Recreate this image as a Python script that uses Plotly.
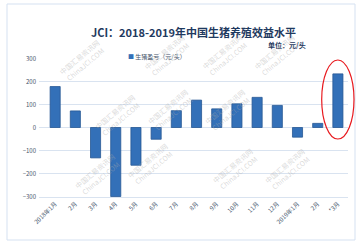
import plotly.graph_objects as go

categories = ["2018年1月", "2月", "3月", "4月", "5月", "6月", "7月", "8月", "9月",
              "10月", "11月", "12月", "2019年1月", "2月", "*3月"]
profit = [178, 72, -132, -300, -164, -51, 73, 119, 81, 103, 131, 96, -42, 18, 233]
y_ticks = [-300, -200, -100, 0, 100, 200, 300]

title_text = "JCI：2018-2019年中国生猪养殖效益水平"
unit_text = "单位：元/头"
series_name = "生猪盈亏（元/头）"

FONT = "Noto Sans CJK SC, Noto Sans, sans-serif"
xpos = list(range(len(categories)))

W, H = 363, 247
L, R, T, B = 39, 15, 58, 50
pw, ph = W - L - R, H - T - B


def px(xp):
    return (xp - L) / pw


def py(yp):
    return (H - B - yp) / ph


fig = go.Figure()
fig.add_trace(go.Bar(
    x=xpos, y=profit, name=series_name,
    marker=dict(color="#3370B8", line=dict(color="#275894", width=0.8)),
    width=0.5,
))

layout_ann = []
layout_ann.append(dict(text="<b>" + title_text + "</b>", x=px(193), y=py(22),
                       xref="paper", yref="paper", showarrow=False,
                       font=dict(size=11, color="#1F3A60", family=FONT)))
layout_ann.append(dict(text="<b>" + unit_text + "</b>", x=px(308), y=py(38),
                       xref="paper", yref="paper", showarrow=False,
                       font=dict(size=7, color="#1F3A60", family=FONT)))
layout_ann.append(dict(text="<span style='color:#3370B8'>■</span> " + series_name,
                       x=px(157), y=py(50), xref="paper", yref="paper", showarrow=False,
                       font=dict(size=6, color="#44546A", family=FONT)))

# watermarks
wm_pos = [(55, 35), (140, 30), (225, 30), (305, 30),
          (90, 115), (170, 110), (255, 110),
          (70, 200), (150, 190), (235, 195), (315, 195)]
for (wx, wy) in wm_pos:
    layout_ann.append(dict(text="中国汇易资讯网<br>ChinaJCI.COM", x=px(wx), y=py(wy),
                           xref="paper", yref="paper", showarrow=False, textangle=-40,
                           font=dict(size=7, color="rgba(170,170,170,0.45)", family=FONT)))

shapes = [
    dict(type="rect", xref="paper", yref="paper", x0=px(7), x1=px(355), y0=py(240), y1=py(4),
         line=dict(color="#D5E1F1", width=1), layer="below"),
    dict(type="circle", xref="paper", yref="paper", x0=px(321.7), x1=px(354),
         y0=py(139), y1=py(60), line=dict(color="#E8191E", width=1.2)),
]

fig.update_layout(
    width=W, height=H,
    margin=dict(l=L, r=R, t=T, b=B),
    paper_bgcolor="white", plot_bgcolor="white",
    showlegend=False,
    annotations=layout_ann,
    shapes=shapes,
    font=dict(family=FONT),
    xaxis=dict(
        tickmode="array", tickvals=xpos, ticktext=categories,
        range=[-0.8, 14.5], tickangle=-45,
        tickfont=dict(size=6, color="#44546A", family=FONT),
        showgrid=False, zeroline=False, showline=True, linecolor="#D9E3F0", ticks="",
    ),
    yaxis=dict(
        range=[-302, 302], tickvals=y_ticks,
        tickfont=dict(size=6, color="#44546A", family=FONT),
        gridcolor="#D9E3F0", gridwidth=1, zeroline=True, zerolinecolor="#D9E3F0",
        zerolinewidth=1, showline=False, ticks="", ticklabelstandoff=2,
    ),
)

fig.write_html("out.html")
